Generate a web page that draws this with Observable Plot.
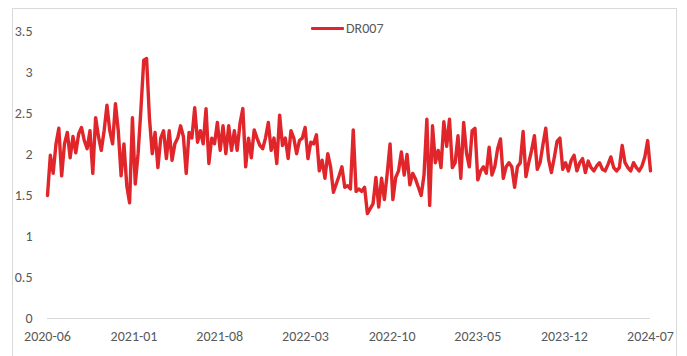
<!DOCTYPE html>
<html>
<head>
<meta charset="utf-8">
<script src="https://cdn.jsdelivr.net/npm/d3@7"></script>
<script src="https://cdn.jsdelivr.net/npm/@observablehq/plot@0.6"></script>
<style>
  html, body { margin: 0; padding: 0; background: #fff; }
  body { width: 687px; height: 356px; overflow: hidden; position: relative;
         font-family: "Carlito", "Liberation Sans", "DejaVu Sans", sans-serif; }
  #frame { position: absolute; left: 12px; top: 8px; width: 665px; height: 380px;
           border: 1px solid #d9d9d9; box-sizing: border-box; }
  #chart { position: absolute; left: 0; top: 0; }
  #legend { position: absolute; left: 311px; top: 20px; display: flex; align-items: center;
            font-size: 14px; color: #595959; }
  #legend .swatch { width: 33px; height: 3.5px; background: #e0262a; border-radius: 1px; margin-right: 2px; }
</style>
</head>
<body>
<div id="frame"></div>
<div id="chart"></div>
<div id="legend"><span class="swatch"></span><span>DR007</span></div>
<script>
// Weekly DR007 rate (%), one value every 7 days starting 2020-06-01
const seriesName = "DR007";
const startDate = "2020-06-01";
const stepDays = 7;
const dr007 = [
  1.50, 1.99, 1.77, 2.13, 2.32, 1.74, 2.13, 2.27, 1.96, 2.22,
  2.02, 2.25, 2.33, 2.17, 2.07, 2.29, 1.77, 2.45, 2.22, 2.05,
  2.29, 2.60, 2.29, 2.13, 2.62, 2.29, 1.74, 2.13, 1.62, 1.41,
  2.45, 1.64, 2.01, 2.55, 3.15, 3.17, 2.45, 2.01, 2.27, 1.84,
  2.20, 2.29, 1.95, 2.29, 1.93, 2.13, 2.20, 2.35, 2.22, 1.77,
  2.27, 2.20, 2.57, 2.15, 2.29, 2.13, 2.56, 1.89, 2.20, 2.13,
  2.39, 2.05, 2.35, 2.01, 2.35, 2.05, 2.29, 2.05, 2.38, 2.56,
  1.85, 2.20, 1.96, 2.30, 2.20, 2.11, 2.07, 2.20, 2.39, 2.05,
  2.20, 1.89, 2.48, 2.11, 2.20, 1.95, 2.29, 2.20, 2.01, 2.17,
  2.20, 2.33, 1.95, 2.15, 2.13, 2.24, 1.80, 1.93, 1.71, 2.01,
  1.85, 1.54, 1.64, 1.74, 1.85, 1.60, 1.62, 1.58, 2.30, 1.55,
  1.58, 1.55, 1.60, 1.28, 1.34, 1.40, 1.72, 1.36, 1.71, 1.45,
  1.77, 2.13, 1.45, 1.72, 1.80, 2.03, 1.75, 2.00, 1.63, 1.77,
  1.70, 1.60, 1.50, 1.75, 2.43, 1.38, 2.35, 1.90, 2.05, 1.84,
  2.40, 2.10, 2.43, 1.84, 1.90, 2.23, 1.71, 2.39, 2.02, 1.85,
  2.29, 2.32, 1.69, 1.80, 1.85, 1.77, 2.09, 1.75, 1.85, 2.07,
  2.19, 1.71, 1.85, 1.90, 1.85, 1.60, 1.85, 1.90, 2.28, 1.73,
  1.90, 2.05, 2.23, 1.82, 1.90, 2.12, 2.32, 1.94, 1.78, 1.96,
  2.16, 2.20, 1.82, 1.90, 1.80, 1.93, 1.99, 1.80, 1.90, 1.95,
  1.78, 1.92, 1.84, 1.80, 1.86, 1.90, 1.82, 1.80, 1.88, 1.97,
  1.84, 1.80, 1.84, 2.11, 1.90, 1.84, 1.80, 1.90, 1.84, 1.80,
  1.86, 1.97, 2.17, 1.80
];

// Axis ticks
const xTickLabels = ["2020-06", "2021-01", "2021-08", "2022-03", "2022-10", "2023-05", "2023-12", "2024-07"];
const yTicks = [0, 0.5, 1, 1.5, 2, 2.5, 3, 3.5];

const parseMonth = d3.utcParse("%Y-%m");
const start = d3.utcParse("%Y-%m-%d")(startDate);
const rows = dr007.map((value, i) => ({ date: d3.utcDay.offset(start, i * stepDays), value }));
const xTicks = xTickLabels.map(parseMonth);

const chart = Plot.plot({
  width: 687,
  height: 356,
  marginLeft: 47,
  marginRight: 37,
  marginTop: 31,
  marginBottom: 38,
  style: { fontFamily: '"Carlito", "Liberation Sans", sans-serif', fontSize: "14px", color: "#595959", background: "transparent" },
  x: {
    type: "utc",
    domain: [xTicks[0], xTicks[xTicks.length - 1]],
    ticks: xTicks,
    tickFormat: d3.utcFormat("%Y-%m"),
    tickSize: 0,
    tickPadding: 13,
    label: null
  },
  y: {
    domain: [0, 3.5],
    ticks: yTicks,
    tickFormat: d => String(d),
    tickSize: 0,
    tickPadding: 15,
    label: null
  },
  marks: [
    Plot.ruleY([0], { stroke: "#d9d9d9", strokeWidth: 1 }),
    Plot.lineY(rows, { x: "date", y: "value", stroke: "#e0262a", strokeWidth: 3.4, strokeLinejoin: "round", title: () => seriesName })
  ]
});
document.getElementById("chart").appendChild(chart);
</script>
</body>
</html>
